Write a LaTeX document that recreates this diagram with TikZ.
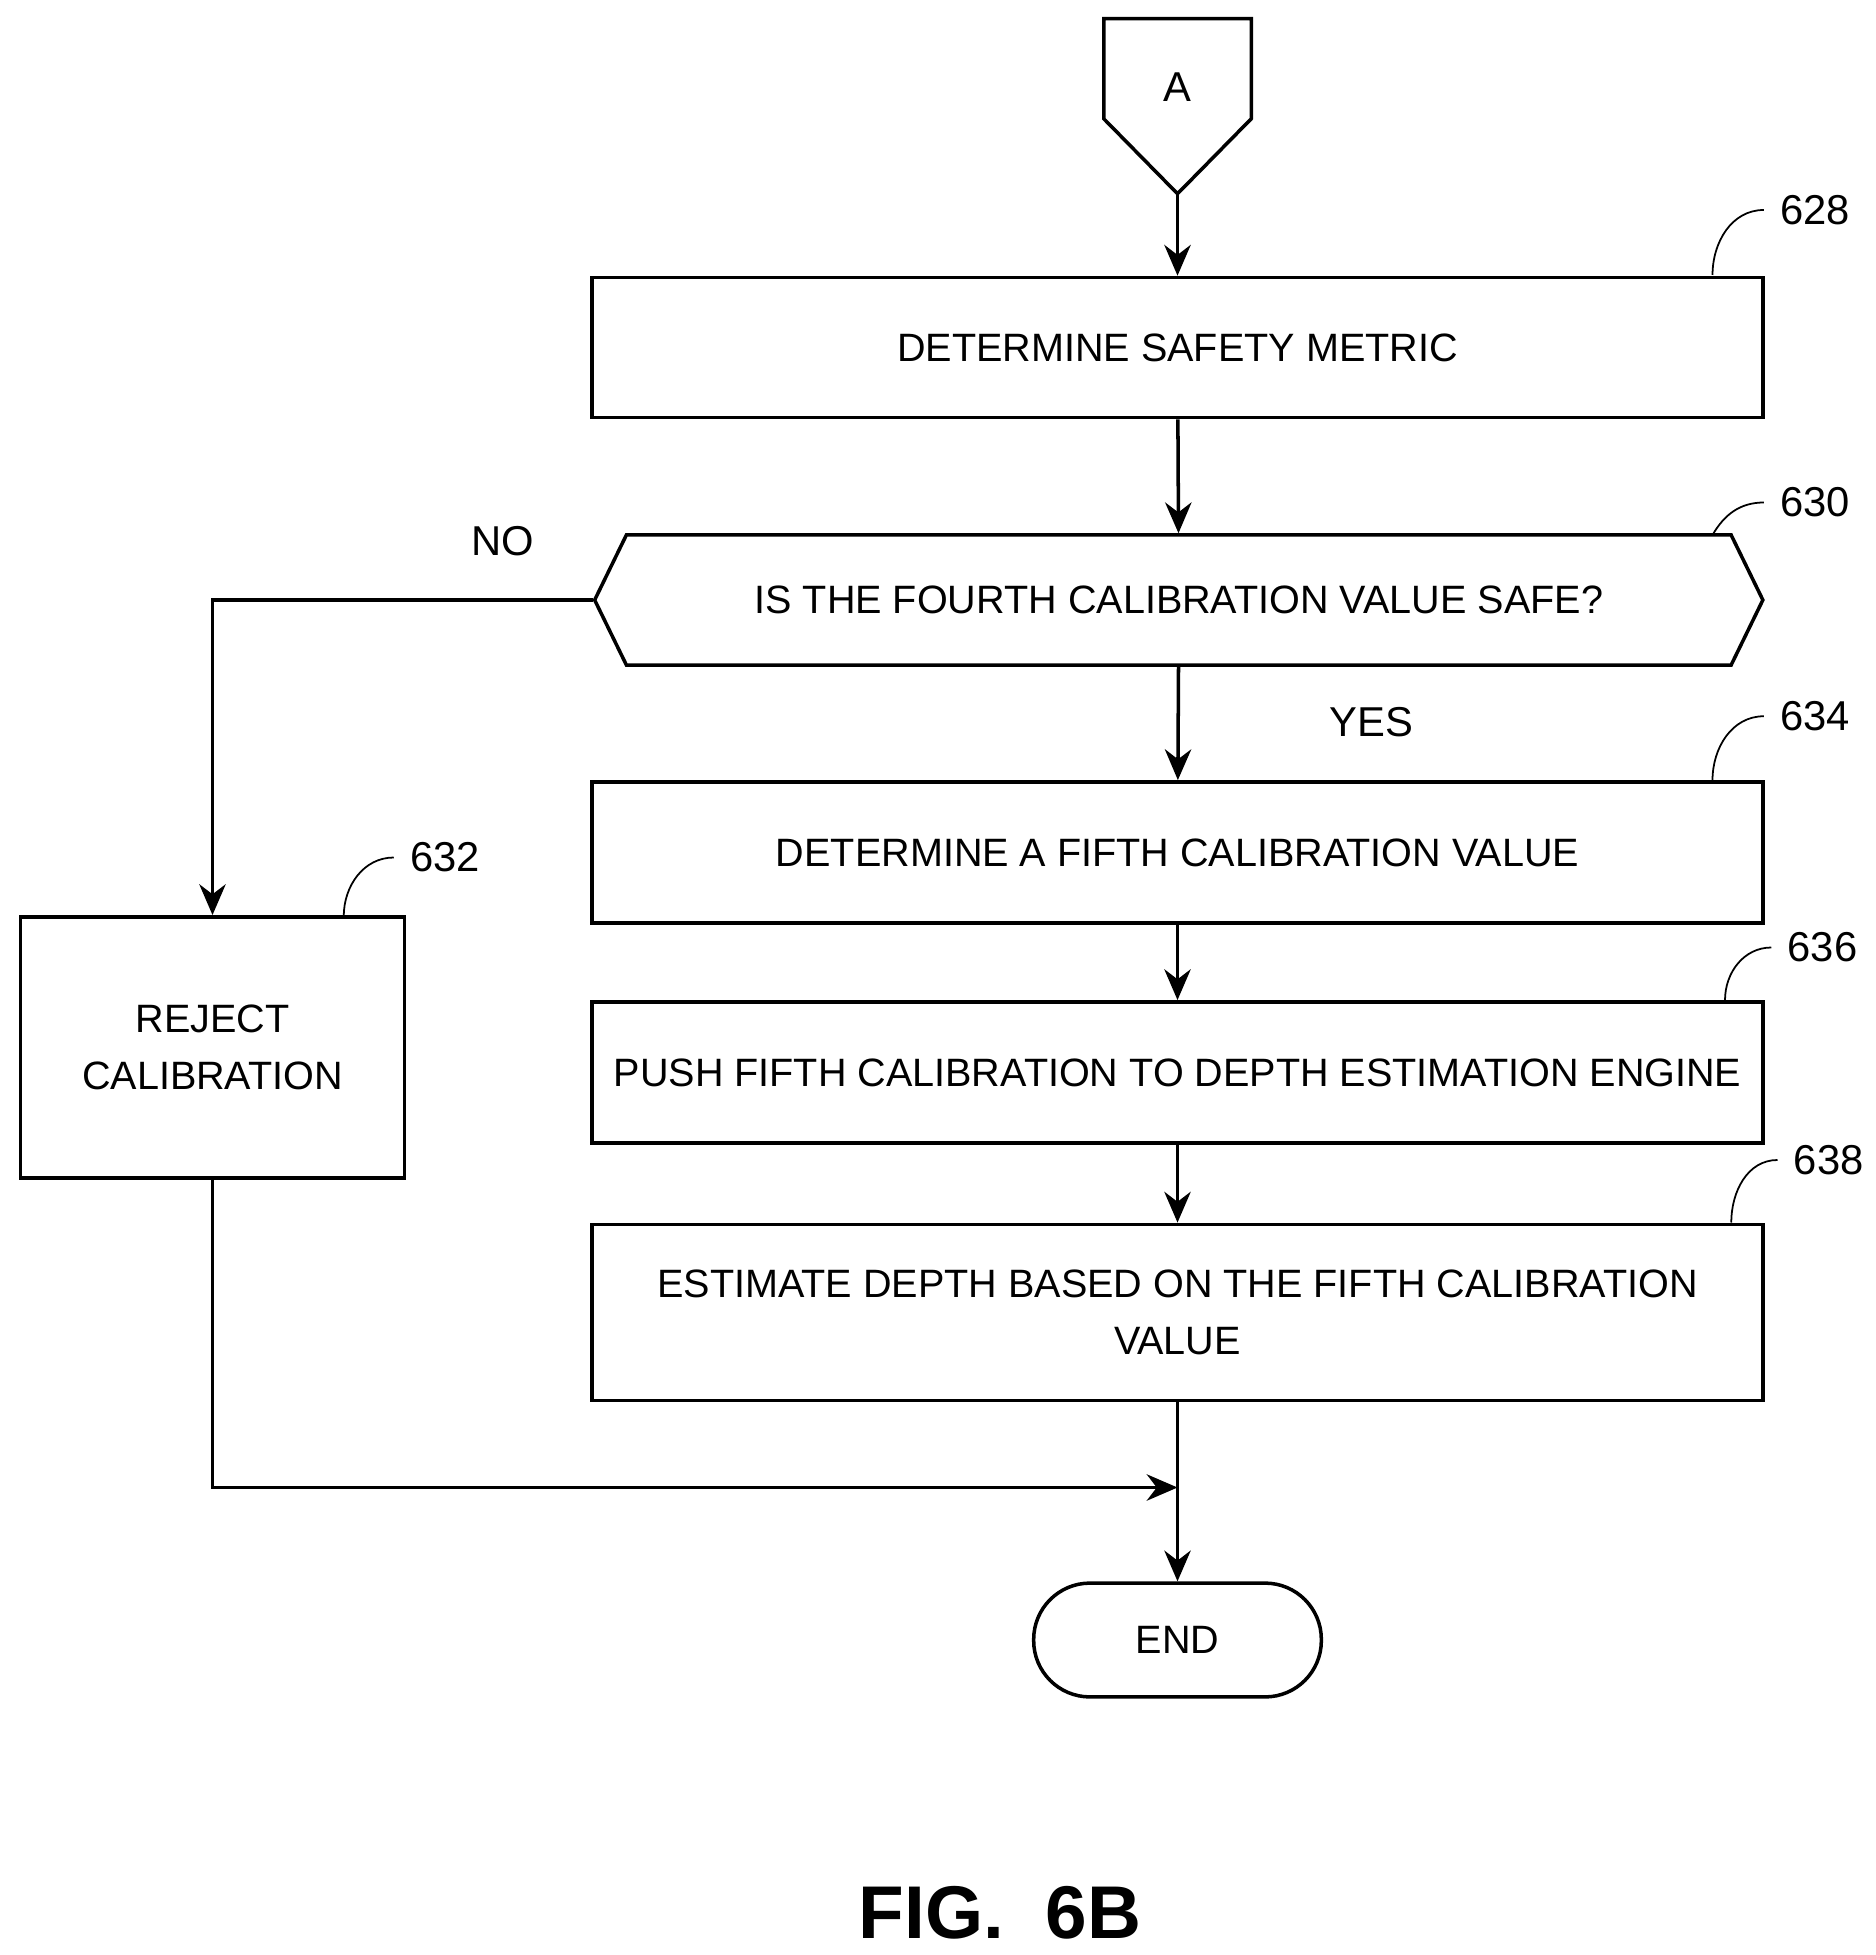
\documentclass[tikz,border=0pt]{standalone}
\usepackage{fontspec}
\setmainfont{Liberation Sans}
\usetikzlibrary{shapes,positioning,arrows.meta}
\tikzset{blk/.style={rectangle,draw,thick,minimum width=9.36cm,inner sep=2pt,align=center,font=\fontsize{9}{13}\selectfont},
  lbl/.style={font=\fontsize{9.5}{12}\selectfont},
  lead/.style={thin}}

\begin{document}
\begin{tikzpicture}[x=0.01cm,y=-0.01cm,>={Stealth[length=7pt,width=6pt]},thick]
    \useasboundingbox (0,0) rectangle (1500,1564);
    % connector A
    \draw (883,15) -- (1001,15) -- (1001,95) -- (942,155) coordinate (ab) -- (883,95) -- cycle;
    \node[lbl] (a) at (942,70) {A};

    \node[blk,minimum height=1.12cm] (metric) at (942,278) {DETERMINE SAFETY METRIC};
    \node[blk,shape=signal,signal to=west and east,signal pointer angle=128,minimum height=1.04cm,minimum width=9.34cm] (safe) at (943,480) {IS THE FOURTH CALIBRATION VALUE SAFE?};
    \node[blk,minimum height=1.13cm] (fifth) at (942,682) {DETERMINE A FIFTH CALIBRATION VALUE};
    \node[blk,minimum height=1.13cm] (push) at (942,858) {PUSH FIFTH CALIBRATION TO DEPTH ESTIMATION ENGINE};
    \node[blk,minimum height=1.41cm] (depth) at (942,1050) {ESTIMATE DEPTH BASED ON THE FIFTH CALIBRATION\\VALUE};
    \node[blk,minimum width=3.07cm,minimum height=2.09cm] (reject) at (170,838) {REJECT\\CALIBRATION};
    \node[blk,minimum width=2.3cm,minimum height=0.91cm,rounded corners=0.45cm] (end) at (942,1312) {END};

    \node[lbl] (no) at (402,433) {NO};
    \node[lbl] (yes) at (1097,578) {YES};

    % reference numerals
    \node[lbl] (n628) at (1452,168) {628};
    \node[lbl] (n630) at (1452,402) {630};
    \node[lbl] (n632) at (356,686) {632};
    \node[lbl] (n634) at (1452,573) {634};
    \node[lbl] (n636) at (1458,758) {636};
    \node[lbl] (n638) at (1463,928) {638};
    \draw[lead] (1370,220) to[out=90,in=180] (n628.west);
    \draw[lead] (1370,428) to[out=60,in=180] (n630.west);
    \draw[lead] (275,733) to[out=90,in=180] (n632.west);
    \draw[lead] (1370,624) to[out=90,in=180] (n634.west);
    \draw[lead] (1380,800) to[out=90,in=180] (n636.west);
    \draw[lead] (1385,978) to[out=90,in=180] (n638.west);

    % flow
    \draw[->] (ab) -- (metric);
    \draw[->] (metric) -- (safe);
    \draw[->] (safe) -- (fifth);
    \draw[->] (fifth) -- (push);
    \draw[->] (push) -- (depth);
    \draw[->] (depth) -- (end);
    \draw[->] (safe.west) -| (reject.north);
    \coordinate (join) at (942,1190);
    \draw[->] (reject.south) |- (join);

    \node[font=\bfseries\fontsize{17}{20}\selectfont] (fig) at (800,1530) {FIG.\ \ 6B};
\end{tikzpicture}
\end{document}
